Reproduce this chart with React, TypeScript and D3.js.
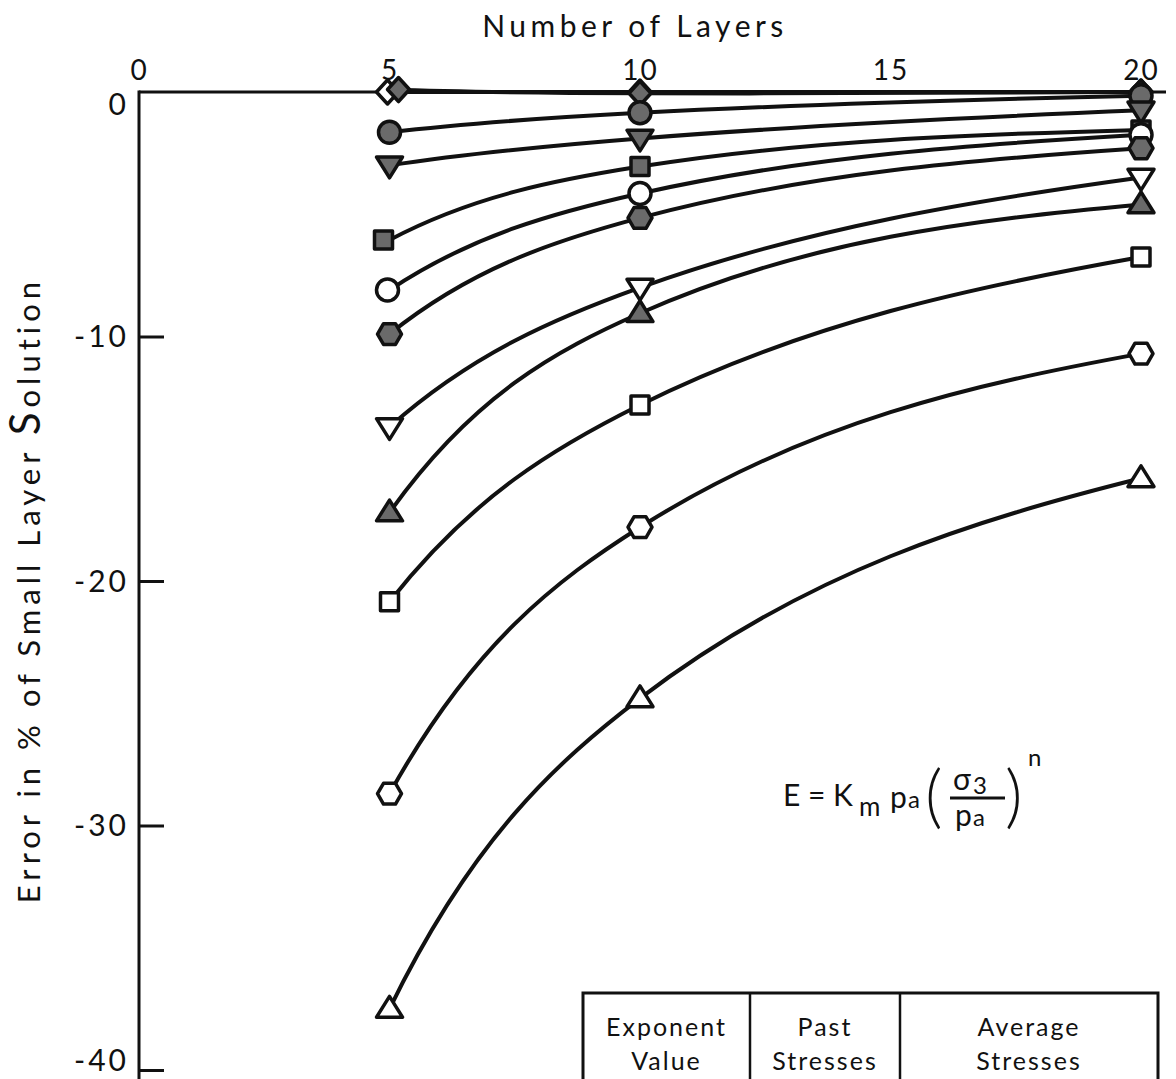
import React, { useEffect, useRef } from 'react';
import * as d3 from 'd3';

// number of layers used in each run
const layers = [5, 10, 20];

// error in % of small layer solution, one array per curve
const openDiamond = [0, 0, 0];
const shadedDiamond = [0.1, -0.05, 0];
const shadedCircle = [-1.65, -0.85, -0.15];
const shadedDownTri = [-3.0, -1.9, -0.75];
const shadedSquare = [-6.05, -3.05, -1.55];
const openCircle = [-8.1, -4.15, -1.75];
const shadedHexagon = [-9.9, -5.15, -2.3];
const openDownTri = [-13.7, -8.0, -3.5];
const shadedUpTri = [-17.2, -9.05, -4.6];
const openSquare = [-20.85, -12.8, -6.75];
const openHexagon = [-28.7, -17.8, -10.7];
const openUpTri = [-37.5, -24.8, -15.8];

const xTicks = [0, 5, 10, 15, 20];
const yTicks = [0, -10, -20, -30, -40];

const tableHeads = [
  ['Exponent', 'Value'],
  ['Past', 'Stresses'],
  ['Average', 'Stresses'],
];

const FONT = 'Lato, "DejaVu Sans", sans-serif';
const INK = '#111';
const SHADE = '#6a6a6a';

const hexagon = (r: number) => {
  const p = d3.path();
  for (let i = 0; i < 6; i++) {
    const a = (Math.PI / 3) * i;
    const x = r * Math.cos(a);
    const y = r * Math.sin(a);
    if (i === 0) p.moveTo(x, y);
    else p.lineTo(x, y);
  }
  p.closePath();
  return p.toString();
};

const triangle = (s: number, down: boolean) => {
  const h = s * 0.8;
  const k = down ? -1 : 1;
  return `M0,${(-h * 0.6) * k}L${s / 2},${h * 0.4 * k}L${-s / 2},${h * 0.4 * k}Z`;
};

const shapes: Record<string, string> = {
  diamond: 'M0,-12L11,0L0,12L-11,0Z',
  circle: d3.symbol(d3.symbolCircle, 380)() as string,
  square: 'M-9,-9H9V9H-9Z',
  hexagon: hexagon(12),
  upTri: triangle(26, false),
  downTri: triangle(26, true),
};

const series = [
  { values: openDiamond, shape: 'diamond', filled: false, dx: -2 },
  { values: shadedDiamond, shape: 'diamond', filled: true, dx: 9 },
  { values: shadedCircle, shape: 'circle', filled: true, dx: 0 },
  { values: shadedDownTri, shape: 'downTri', filled: true, dx: 0 },
  { values: shadedSquare, shape: 'square', filled: true, dx: -6 },
  { values: openCircle, shape: 'circle', filled: false, dx: -2 },
  { values: shadedHexagon, shape: 'hexagon', filled: true, dx: 0 },
  { values: openDownTri, shape: 'downTri', filled: false, dx: 0 },
  { values: shadedUpTri, shape: 'upTri', filled: true, dx: 0 },
  { values: openSquare, shape: 'square', filled: false, dx: 0 },
  { values: openHexagon, shape: 'hexagon', filled: false, dx: 0 },
  { values: openUpTri, shape: 'upTri', filled: false, dx: 0 },
];

const width = 1176;
const height = 1079;

// hand drawn french-curve look: cubic segments whose slopes come from a
// parabola through neighbouring points measured in log(x) from the origin
const logXCurve = (originX: number) => (context: any) => {
  let pts: [number, number][] = [];
  const slope = (i: number) => {
    const n = pts.length;
    const a = Math.min(Math.max(i - 1, 0), n - 3);
    const trio = [pts[a], pts[a + 1], pts[a + 2]];
    const u = trio.map(p => Math.log(p[0] - originX));
    const t = Math.log(pts[i][0] - originX);
    const d0 = (2 * t - u[1] - u[2]) / ((u[0] - u[1]) * (u[0] - u[2]));
    const d1 = (2 * t - u[0] - u[2]) / ((u[1] - u[0]) * (u[1] - u[2]));
    const d2 = (2 * t - u[0] - u[1]) / ((u[2] - u[0]) * (u[2] - u[1]));
    const dydu = trio[0][1] * d0 + trio[1][1] * d1 + trio[2][1] * d2;
    return dydu / (pts[i][0] - originX);
  };
  return {
    areaStart() {},
    areaEnd() {},
    lineStart() {
      pts = [];
    },
    point(x: number, y: number) {
      pts.push([+x, +y]);
    },
    lineEnd() {
      const n = pts.length;
      if (!n) return;
      context.moveTo(pts[0][0], pts[0][1]);
      if (n < 3) {
        pts.slice(1).forEach(p => context.lineTo(p[0], p[1]));
        return;
      }
      const m = pts.map((p, i) => slope(i));
      for (let i = 0; i < n - 1; i++) {
        const [xa, ya] = pts[i];
        const [xb, yb] = pts[i + 1];
        const h = (xb - xa) / 3;
        context.bezierCurveTo(xa + h, ya + m[i] * h, xb - h, yb - m[i + 1] * h, xb, yb);
      }
    },
  };
};

const drawChart = (el: SVGSVGElement) => {
  const svg = d3.select(el);
  svg.selectAll('*').remove();

  const x = d3.scaleLinear().domain([0, 20]).range([139, 1141]);
  const y = d3.scaleLinear().domain([0, -40]).range([92, 1070]);
  const fmt = (d: any) => String(d);

  // top axis, labels only
  const xAxis = svg
    .append('g')
    .attr('transform', `translate(0,${y(0)})`)
    .call(d3.axisTop(x).tickValues(xTicks).tickSize(0).tickPadding(12).tickFormat(fmt));
  xAxis.select('.domain').remove();
  xAxis
    .selectAll('text')
    .attr('font-family', FONT)
    .attr('font-size', 28)
    .attr('fill', INK)
    .attr('letter-spacing', 2);

  svg
    .append('line')
    .attr('x1', x(0))
    .attr('x2', 1166)
    .attr('y1', y(0))
    .attr('y2', y(0))
    .attr('stroke', INK)
    .attr('stroke-width', 3);

  // left axis, ticks pointing into the plot
  const yAxis = svg
    .append('g')
    .attr('transform', `translate(${x(0)},0)`)
    .call(d3.axisLeft(y).tickValues(yTicks).tickSize(-25).tickPadding(10).tickFormat(fmt));
  yAxis.select('.domain').remove();
  yAxis
    .selectAll('line')
    .attr('stroke', INK)
    .attr('stroke-width', 3)
    .attr('opacity', (d: any) => (d === 0 ? 0 : 1));
  yAxis
    .selectAll('text')
    .attr('font-family', FONT)
    .attr('font-size', 30)
    .attr('fill', INK)
    .attr('letter-spacing', 3)
    .attr('dy', (d: any) => (d === 0 ? '0.75em' : d === -40 ? '0.02em' : '0.34em'));

  svg
    .append('line')
    .attr('x1', x(0))
    .attr('x2', x(0))
    .attr('y1', y(0) - 1.5)
    .attr('y2', height)
    .attr('stroke', INK)
    .attr('stroke-width', 3);

  // axis titles
  svg
    .append('text')
    .attr('x', 635)
    .attr('y', 37)
    .attr('text-anchor', 'middle')
    .attr('font-family', FONT)
    .attr('font-size', 30)
    .attr('letter-spacing', 4.5)
    .attr('fill', INK)
    .text('Number of Layers');

  const yTitle = svg
    .append('text')
    .attr('transform', 'translate(40,590) rotate(-90)')
    .attr('text-anchor', 'middle')
    .attr('font-family', FONT)
    .attr('font-size', 31)
    .attr('letter-spacing', 5)
    .attr('fill', INK);
  yTitle.append('tspan').text('Error in % of Small Layer ');
  yTitle.append('tspan').attr('font-size', 42).text('S');
  yTitle.append('tspan').text('olution');

  // curves
  const line = d3
    .line<number>()
    .x((d, i) => x(layers[i]))
    .y(d => y(d))
    .curve(logXCurve(x(0)) as any);

  svg
    .append('g')
    .selectAll('path')
    .data(series)
    .join('path')
    .attr('d', s => line(s.values))
    .attr('fill', 'none')
    .attr('stroke', INK)
    .attr('stroke-width', 4)
    .attr('stroke-linecap', 'round');

  // markers
  const marks = svg.append('g');
  series.forEach(s => {
    s.values.forEach((v, i) => {
      marks
        .append('path')
        .attr('d', shapes[s.shape])
        .attr('transform', `translate(${x(layers[i]) + (i === 0 ? s.dx : 0)},${y(v)})`)
        .attr('fill', s.filled ? SHADE : '#fff')
        .attr('stroke', INK)
        .attr('stroke-width', 3.5)
        .attr('stroke-linejoin', 'round');
    });
  });

  // formula E = Km pa (σ3 / pa)^n
  const f = svg.append('g').attr('font-family', FONT).attr('fill', INK);
  const fx = 783;
  const fy = 806;
  f.append('text').attr('x', fx).attr('y', fy).attr('font-size', 30).text('E = K');
  f.append('text').attr('x', fx + 76).attr('y', fy + 10).attr('font-size', 26).text('m');
  f.append('text').attr('x', fx + 107).attr('y', fy + 2).attr('font-size', 30).text('p');
  f.append('text').attr('x', fx + 125).attr('y', fy + 2).attr('font-size', 24).text('a');
  f.append('text').attr('x', fx + 142).attr('y', fy + 14).attr('font-size', 68).attr('font-weight', 300).text('(');
  f.append('text').attr('x', fx + 170).attr('y', fy - 16).attr('font-size', 30).text('σ');
  f.append('text').attr('x', fx + 190).attr('y', fy - 12).attr('font-size', 24).text('3');
  f.append('line')
    .attr('x1', fx + 167)
    .attr('x2', fx + 222)
    .attr('y1', fy - 8)
    .attr('y2', fy - 8)
    .attr('stroke', INK)
    .attr('stroke-width', 3);
  f.append('text').attr('x', fx + 172).attr('y', fy + 20).attr('font-size', 30).text('p');
  f.append('text').attr('x', fx + 190).attr('y', fy + 20).attr('font-size', 24).text('a');
  f.append('text').attr('x', fx + 222).attr('y', fy + 14).attr('font-size', 68).attr('font-weight', 300).text(')');
  f.append('text').attr('x', fx + 245).attr('y', fy - 40).attr('font-size', 24).text('n');

  // table header at the bottom
  const cols = [583, 750, 900, 1158];
  const top = 993;
  const t = svg.append('g');
  t.append('path')
    .attr('d', `M${cols[0]},${height}V${top}H${cols[3]}V${height}`)
    .attr('fill', 'none')
    .attr('stroke', INK)
    .attr('stroke-width', 3);
  [cols[1], cols[2]].forEach(c => {
    t.append('line')
      .attr('x1', c)
      .attr('x2', c)
      .attr('y1', top)
      .attr('y2', height)
      .attr('stroke', INK)
      .attr('stroke-width', 2.5);
  });
  tableHeads.forEach((lines, i) => {
    lines.forEach((txt, j) => {
      t.append('text')
        .attr('x', (cols[i] + cols[i + 1]) / 2)
        .attr('y', 1036 + j * 34)
        .attr('text-anchor', 'middle')
        .attr('font-family', FONT)
        .attr('font-size', 25)
        .attr('letter-spacing', 2)
        .attr('fill', INK)
        .text(txt);
    });
  });
};

const App = () => {
  const ref = useRef<SVGSVGElement>(null);

  useEffect(() => {
    if (ref.current) drawChart(ref.current);
  }, []);

  return (
    <div style={{ position: 'absolute', left: 0, top: 0, background: '#fff' }}>
      <svg ref={ref} width={width} height={height} style={{ display: 'block' }} />
    </div>
  );
};

export default App;
